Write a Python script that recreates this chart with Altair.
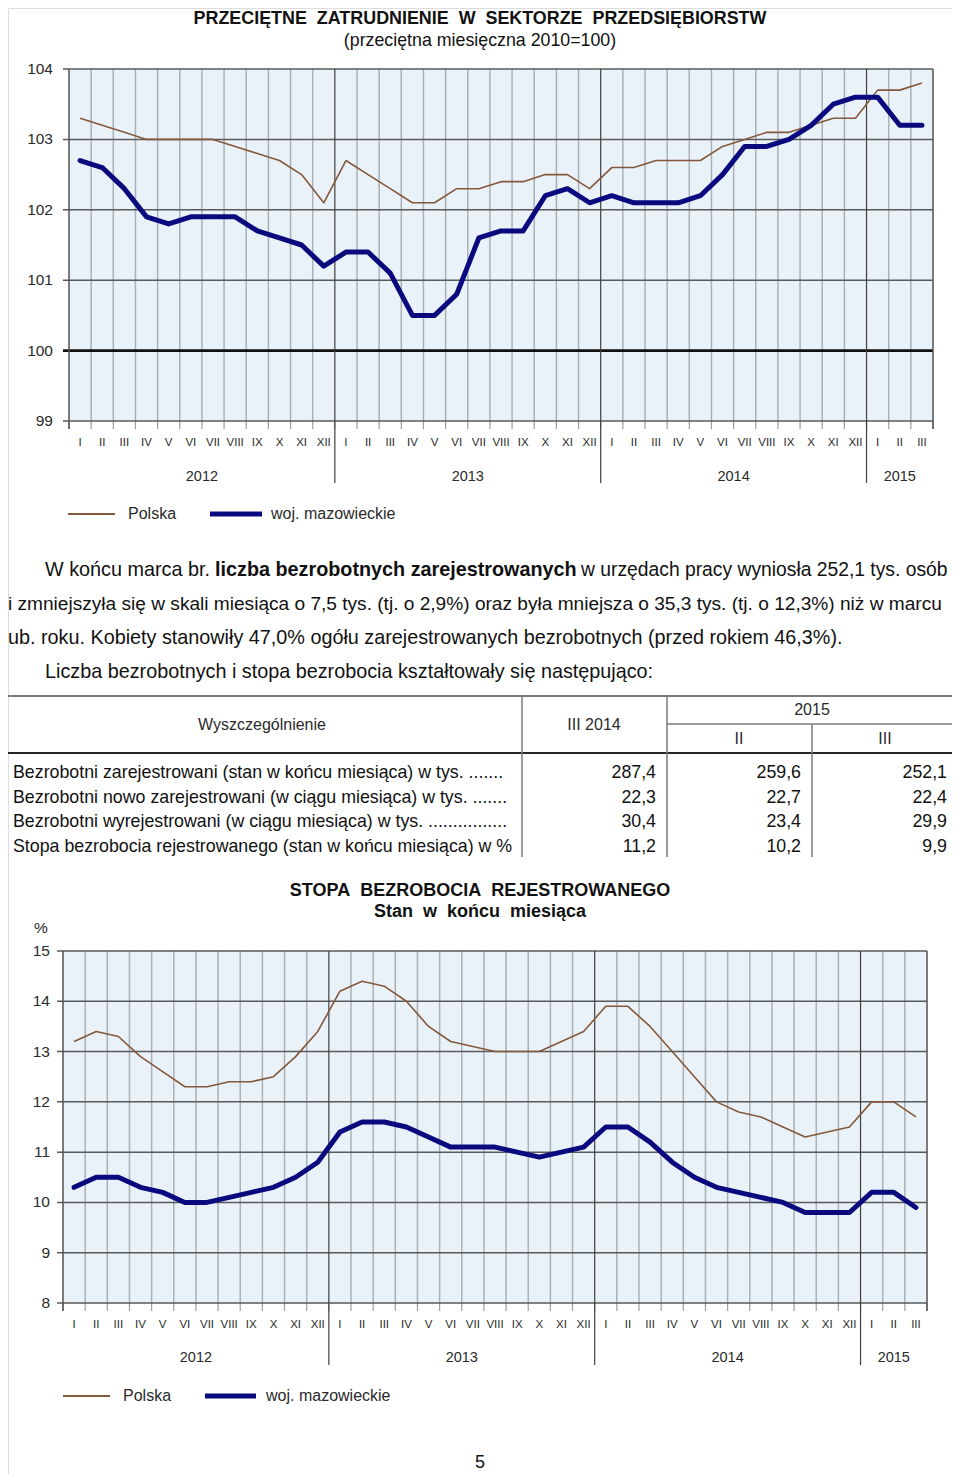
import altair as alt
import pandas as pd

# ---------------- data ----------------
months = ["I", "II", "III", "IV", "V", "VI", "VII", "VIII", "IX", "X", "XI", "XII"]
month_labels = months * 3 + ["I", "II", "III"]
years = ["2012", "2013", "2014", "2015"]
year_len = [12, 12, 12, 3]

emp_polska = [103.3, 103.2, 103.1, 103.0, 103.0, 103.0, 103.0, 102.9, 102.8, 102.7, 102.5, 102.1,
              102.7, 102.5, 102.3, 102.1, 102.1, 102.3, 102.3, 102.4, 102.4, 102.5, 102.5, 102.3,
              102.6, 102.6, 102.7, 102.7, 102.7, 102.9, 103.0, 103.1, 103.1, 103.2, 103.3, 103.3,
              103.7, 103.7, 103.8]
emp_maz = [102.7, 102.6, 102.3, 101.9, 101.8, 101.9, 101.9, 101.9, 101.7, 101.6, 101.5, 101.2,
           101.4, 101.4, 101.1, 100.5, 100.5, 100.8, 101.6, 101.7, 101.7, 102.2, 102.3, 102.1,
           102.2, 102.1, 102.1, 102.1, 102.2, 102.5, 102.9, 102.9, 103.0, 103.2, 103.5, 103.6,
           103.6, 103.2, 103.2]

ur_polska = [13.2, 13.4, 13.3, 12.9, 12.6, 12.3, 12.3, 12.4, 12.4, 12.5, 12.9, 13.4,
             14.2, 14.4, 14.3, 14.0, 13.5, 13.2, 13.1, 13.0, 13.0, 13.0, 13.2, 13.4,
             13.9, 13.9, 13.5, 13.0, 12.5, 12.0, 11.8, 11.7, 11.5, 11.3, 11.4, 11.5,
             12.0, 12.0, 11.7]
ur_maz = [10.3, 10.5, 10.5, 10.3, 10.2, 10.0, 10.0, 10.1, 10.2, 10.3, 10.5, 10.8,
          11.4, 11.6, 11.6, 11.5, 11.3, 11.1, 11.1, 11.1, 11.0, 10.9, 11.0, 11.1,
          11.5, 11.5, 11.2, 10.8, 10.5, 10.3, 10.2, 10.1, 10.0, 9.8, 9.8, 9.8,
          10.2, 10.2, 9.9]

emp_ticks = [99, 100, 101, 102, 103, 104]
ur_ticks = [8, 9, 10, 11, 12, 13, 14, 15]

series_names = ["Polska", "woj. mazowieckie"]

table_rows = ["Bezrobotni zarejestrowani (stan w końcu miesiąca) w tys. .......",
              "Bezrobotni nowo zarejestrowani (w ciągu miesiąca) w tys. .......",
              "Bezrobotni wyrejestrowani (w ciągu miesiąca) w tys. ................",
              "Stopa bezrobocia rejestrowanego (stan w końcu miesiąca) w %"]
col_iii_2014 = ["287,4", "22,3", "30,4", "11,2"]
col_ii_2015 = ["259,6", "22,7", "23,4", "10,2"]
col_iii_2015 = ["252,1", "22,4", "29,9", "9,9"]

# ---------------- layout / style ----------------
FONT = "Liberation Sans, Arial, sans-serif"
W = 944
TOTAL_H = 1466
ORIGIN = 8
N = len(month_labels)
C_POL = "#84583A"
C_MAZ = "#0A0A7E"
TXT = "#2a2a2a"
NB = "\u00a0"


def L(v):
    return v - ORIGIN


def one():
    return pd.DataFrame({"a": [0]})


def txt(s, x, y, size, weight="normal", align="center", baseline="middle", color=TXT):
    return alt.Chart(pd.DataFrame({"t": [s]})).mark_text(
        align=align, baseline=baseline, fontSize=size, fontWeight=weight, font=FONT, color=color
    ).encode(x=alt.value(L(x)), y=alt.value(L(y)), text="t:N")


def hline(x1, x2, y, color, w):
    return alt.Chart(one()).mark_rule(color=color, strokeWidth=w).encode(
        x=alt.value(L(x1)), x2=alt.value(L(x2)), y=alt.value(L(y)))


def vline(x, y1, y2, color, w):
    return alt.Chart(one()).mark_rule(color=color, strokeWidth=w).encode(
        x=alt.value(L(x)), y=alt.value(L(y1)), y2=alt.value(L(y2)))


def panel(box, vrange, ticks, pol, maz, ylab_right, month_y, year_y, sep_to, legend, base_line=None):
    left, right, top, bottom = box
    vmin, vmax = vrange
    xs = (right - left) / N
    lx = L(left)
    xsc = alt.Scale(domain=[-lx / xs - 0.5, (W - lx) / xs - 0.5], nice=False, zero=False)
    ys = (bottom - top) / (vmax - vmin)
    ty = L(top)
    ysc = alt.Scale(domain=[vmax - (TOTAL_H - ty) / ys, vmax + ty / ys], nice=False, zero=False)

    def X(f):
        return alt.X(f, type="quantitative", scale=xsc, axis=None)

    def Y(f):
        return alt.Y(f, type="quantitative", scale=ysc, axis=None)

    tick_v = vmin - 8 / ys
    layers = []
    bg = pd.DataFrame({"m": [-0.5], "m2": [N - 0.5], "v": [vmin], "v2": [vmax]})
    layers.append(alt.Chart(bg).mark_rect(color="#EAF2F9").encode(
        x=X("m"), x2="m2", y=Y("v"), y2="v2"))
    year_bounds = []
    acc = 0
    for n_m in year_len[:-1]:
        acc += n_m
        year_bounds.append(acc - 0.5)
    inner = [i + 0.5 for i in range(N - 1) if (i + 0.5) not in year_bounds]
    vg = pd.DataFrame({"m": inner, "v": vmin, "v2": vmax})
    layers.append(alt.Chart(vg).mark_rule(color="#AAB0B6", strokeWidth=1.5).encode(
        x=X("m"), y=Y("v"), y2="v2"))
    tk = pd.DataFrame({"m": [i - 0.5 for i in range(N + 1)], "v": tick_v, "v2": vmin})
    layers.append(alt.Chart(tk).mark_rule(color="#9A9FA6", strokeWidth=1.2).encode(
        x=X("m"), y=Y("v"), y2="v2"))
    hv = [t for t in ticks if t != base_line]
    hg = pd.DataFrame({"v": hv, "m": -0.5 - 6 / xs, "m2": N - 0.5})
    layers.append(alt.Chart(hg).mark_rule(color="#595959", strokeWidth=1.5).encode(
        y=Y("v"), x=X("m"), x2="m2"))
    if base_line is not None:
        bl = pd.DataFrame({"v": [base_line], "m": -0.5 - 6 / xs, "m2": N - 0.5})
        layers.append(alt.Chart(bl).mark_rule(color="#111111", strokeWidth=2.6).encode(
            y=Y("v"), x=X("m"), x2="m2"))
    bd = pd.DataFrame({"m": [-0.5, N - 0.5], "v": vmax, "v2": tick_v})
    layers.append(alt.Chart(bd).mark_rule(color="#505050", strokeWidth=1.5).encode(
        x=X("m"), y=Y("v"), y2="v2"))
    sep_v = vmax - (sep_to - top) / ys
    sp = pd.DataFrame({"m": year_bounds, "v": vmax, "v2": sep_v})
    layers.append(alt.Chart(sp).mark_rule(color="#3f3f3f", strokeWidth=1.2).encode(
        x=X("m"), y=Y("v"), y2="v2"))
    idx = list(range(N))
    dpol = pd.DataFrame({"m": idx, "v": pol, "s": series_names[0]})
    dmaz = pd.DataFrame({"m": idx, "v": maz, "s": series_names[1]})
    layers.append(alt.Chart(dpol).mark_line(color=C_POL, strokeWidth=1.6, strokeJoin="round").encode(
        x=X("m"), y=Y("v")))
    layers.append(alt.Chart(dmaz).mark_line(color=C_MAZ, strokeWidth=5, strokeJoin="round",
                                            strokeCap="round").encode(x=X("m"), y=Y("v")))
    yl = pd.DataFrame({"v": ticks, "t": [str(t) for t in ticks]})
    layers.append(alt.Chart(yl).mark_text(align="right", baseline="middle", fontSize=15.5, font=FONT,
                                          color=TXT).encode(
        x=alt.value(L(ylab_right)), y=Y("v"), text="t:N"))
    ml = pd.DataFrame({"m": idx, "t": month_labels})
    layers.append(alt.Chart(ml).mark_text(baseline="middle", fontSize=11.5, font=FONT,
                                          color=TXT).encode(
        x=X("m"), y=alt.value(L(month_y)), text="t:N"))
    centers = []
    acc = 0
    for n_m in year_len:
        centers.append(acc + (n_m - 1) / 2)
        acc += n_m
    yrl = pd.DataFrame({"m": centers, "t": years})
    layers.append(alt.Chart(yrl).mark_text(baseline="middle", fontSize=14.5, font=FONT,
                                           color=TXT).encode(
        x=X("m"), y=alt.value(L(year_y)), text="t:N"))
    lgy, (p1, p2, pt, m1, m2, mt) = legend
    layers.append(hline(p1, p2, lgy, C_POL, 2))
    layers.append(txt(series_names[0], pt, lgy, 16, align="left"))
    layers.append(hline(m1, m2, lgy, C_MAZ, 5))
    layers.append(txt(series_names[1], mt, lgy, 16, align="left"))
    return layers


layers = []

# ---------------- employment chart ----------------
title1 = NB.join(["PRZECIĘTNE", "", "ZATRUDNIENIE", "", "W", "", "SEKTORZE", "", "PRZEDSIĘBIORSTW"])
layers.append(txt(title1, 480, 19, 17.9, weight="bold", color="#111"))
layers.append(txt("(przeciętna miesięczna 2010=100)", 480, 41, 17.8, color="#111"))
layers += panel((69, 933, 69, 421), (99, 104), emp_ticks, emp_polska, emp_maz,
                53, 443, 477, 483, (514, (68, 115, 128, 210, 262, 271)), base_line=100)

# ---------------- text and table ----------------
P = 19.8
layers += [
    txt("W końcu marca br.", 45, 570, P, align="left", color="#111"),
    txt("liczba bezrobotnych zarejestrowanych", 215, 570, P, weight="bold", align="left", color="#111"),
    txt("w urzędach pracy wyniosła 252,1 tys. osób", 581, 570, 19.3, align="left", color="#111"),
    txt("i zmniejszyła się w skali miesiąca o 7,5 tys. (tj. o 2,9%) oraz była mniejsza o 35,3 tys. (tj. o 12,3%) niż w marcu",
        8, 604, 19.1, align="left", color="#111"),
    txt("ub. roku. Kobiety stanowiły 47,0% ogółu zarejestrowanych bezrobotnych (przed rokiem 46,3%).",
        8, 638, P, align="left", color="#111"),
    txt("Liczba bezrobotnych i stopa bezrobocia kształtowały się następująco:",
        45, 672, P, align="left", color="#111"),
    hline(8, 958, 696, "#7a7a7a", 2),
    hline(667, 958, 724, "#7a7a7a", 1.5),
    hline(8, 958, 753, "#262626", 2),
    vline(522, 696, 857, "#7a7a7a", 1.5),
    vline(667, 696, 857, "#7a7a7a", 1.5),
    vline(812, 724, 857, "#7a7a7a", 1.5),
    txt("Wyszczególnienie", 262, 725, 16),
    txt("III 2014", 594, 725, 16),
    txt("2015", 812, 710, 16),
    txt("II", 739, 739, 16),
    txt("III", 885, 739, 16),
]
tb = pd.DataFrame({"r": range(len(table_rows)), "lab": table_rows, "c1": col_iii_2014,
                   "c2": col_ii_2015, "c3": col_iii_2015})
tb["y"] = L(773) + tb["r"] * 24.6
layers.append(alt.Chart(tb).mark_text(align="left", baseline="middle", fontSize=17.8, font=FONT,
                                      color="#111").encode(
    x=alt.value(L(13)), y=alt.Y("y:Q", scale=None, axis=None), text="lab:N"))
for col, xr in (("c1", 656), ("c2", 801), ("c3", 947)):
    layers.append(alt.Chart(tb).mark_text(align="right", baseline="middle", fontSize=17.8, font=FONT,
                                          color="#111").encode(
        x=alt.value(L(xr)), y=alt.Y("y:Q", scale=None, axis=None), text=f"{col}:N"))

# ---------------- unemployment rate chart ----------------
title3a = NB.join(["STOPA", "", "BEZROBOCIA", "", "REJESTROWANEGO"])
title3b = NB.join(["Stan", "", "w", "", "końcu", "", "miesiąca"])
layers.append(txt(title3a, 480, 891, 18, weight="bold", color="#111"))
layers.append(txt(title3b, 480, 912, 18, weight="bold", color="#111"))
layers.append(txt("%", 41, 928, 15.5))
layers += panel((63, 927, 951, 1303), (8, 15), ur_ticks, ur_polska, ur_maz,
                50, 1325, 1358, 1365, (1396, (63, 110, 123, 205, 256, 266)))

# ---------------- page number ----------------
layers.append(txt("5", 480, 1463, 18, color="#111"))

chart = alt.layer(*layers).resolve_scale(x="independent", y="independent").properties(
    width=W, height=TOTAL_H, padding=0, autosize=alt.AutoSizeParams(type="none")
).configure_view(stroke="transparent").configure(font=FONT)

chart.save("out.html", embed_options={"renderer": "svg", "actions": False})
